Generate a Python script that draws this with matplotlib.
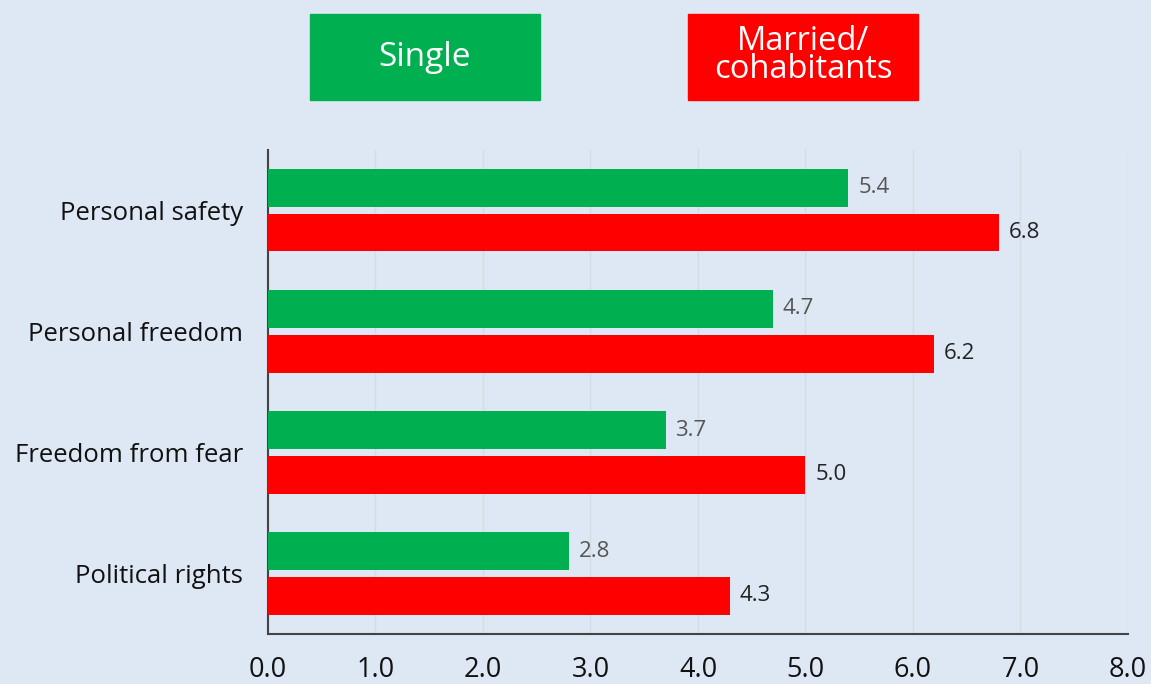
import matplotlib as mpl
import matplotlib.pyplot as plt
import numpy as np

mpl.use('Agg')

categories = ["Personal safety", "Personal freedom", "Freedom from fear", "Political rights"]
single = [5.4, 4.7, 3.7, 2.8]
married = [6.8, 6.2, 5.0, 4.3]
xticks = [0, 1, 2, 3, 4, 5, 6, 7, 8]

bg = "#dde8f4"
green = "#00b050"
red = "#ff0000"

plt.rcParams['font.family'] = ['Open Sans', 'DejaVu Sans']

fig = plt.figure(figsize=(11.51, 6.84), dpi=100, facecolor=bg)
ax = fig.add_axes([0.2328, 0.0731, 0.7472, 0.7079])
ax.set_facecolor(bg)

y = np.arange(len(categories))
h = 0.31
off = 0.185
ax.barh(y - off, single, height=h, color=green, zorder=3)
ax.barh(y + off, married, height=h, color=red, zorder=3)

for i in range(len(categories)):
    ax.text(single[i] + 0.09, y[i] - off, "%.1f" % single[i], va='center', ha='left',
            fontsize=16, color="#555555")
    ax.text(married[i] + 0.09, y[i] + off, "%.1f" % married[i], va='center', ha='left',
            fontsize=16, color="#222222")

ax.set_ylim(len(categories) - 0.5, -0.5)
ax.set_xlim(0, 8)
ax.set_yticks(y)
ax.set_yticklabels(categories, fontsize=18.5, color="#111111")
ax.set_xticks(xticks)
ax.set_xticklabels(["%.1f" % v for v in xticks], fontsize=19.5, color="#111111")
ax.tick_params(length=0)
ax.tick_params(axis='x', pad=16)
ax.tick_params(axis='y', pad=18)
ax.grid(axis='x', color="#d3dbe4", linewidth=1, zorder=0)
for s in ['top', 'right']:
    ax.spines[s].set_visible(False)
for s in ['left', 'bottom']:
    ax.spines[s].set_color("#444444")
    ax.spines[s].set_linewidth(1.5)

# legend boxes
fig.patches.append(mpl.patches.Rectangle((310 / 1151, 1 - 100 / 684), 230 / 1151, 86 / 684,
                                         transform=fig.transFigure, color=green))
fig.patches.append(mpl.patches.Rectangle((688 / 1151, 1 - 100 / 684), 230 / 1151, 86 / 684,
                                         transform=fig.transFigure, color=red))
fig.text(425 / 1151, 1 - 57 / 684, "Single", ha='center', va='center', fontsize=24, color="white")
fig.text(803 / 1151, 1 - 56 / 684, "Married/\ncohabitants", ha='center', va='center',
         fontsize=23.5, color="white", linespacing=0.8)

fig.savefig("out.png", facecolor=bg)
